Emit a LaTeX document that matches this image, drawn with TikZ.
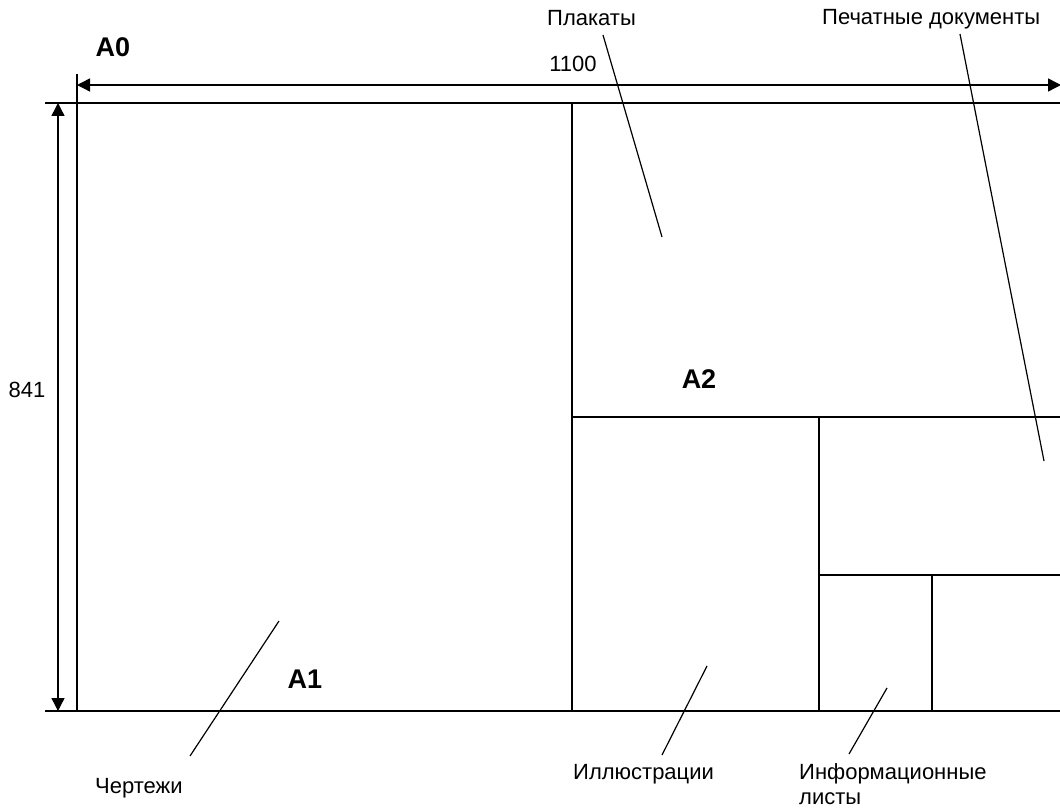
\documentclass[tikz,border=0pt]{standalone}
\usepackage{fontspec}
\setmainfont{Liberation Sans}
\usetikzlibrary{arrows.meta}
\begin{document}
\begin{tikzpicture}[x=1pt,y=-1pt,
  frameline/.style={line width=2.8pt, line cap=rect},
  extline/.style={line width=1.4pt},
  dimline/.style={line width=1.4pt, {Triangle[length=13pt,width=13pt]}-{Triangle[length=13pt,width=13pt]}},
  leader/.style={line width=1.2pt},
  lbl/.style={font=\fontsize{22}{25}\selectfont, inner sep=0pt, anchor=base west, align=left},
  big/.style={font=\fontsize{27}{30}\selectfont\bfseries, inner sep=0pt}]
\useasboundingbox (0,0) rectangle (1060,810);
\clip (0,0) rectangle (1060,810);
% corners and division points
\coordinate (TL) at (77,103);
\coordinate (BL) at (77,711);
\coordinate (TR) at (1064,103);
\coordinate (BR) at (1064,711);
\coordinate (M1t) at (572,103);
\coordinate (M1b) at (572,711);
\coordinate (H1l) at (572,417);
\coordinate (H1r) at (1064,417);
\coordinate (V2t) at (819,417);
\coordinate (V2b) at (819,711);
\coordinate (H2l) at (819,575);
\coordinate (H2r) at (1064,575);
\coordinate (V3t) at (932,575);
\coordinate (V3b) at (932,711);
% sheet outline and divisions
\draw[frameline] (TR) -- (TL) -- (BL) -- (BR);
\draw[frameline] (M1t) -- (M1b);
\draw[frameline] (H1l) -- (H1r);
\draw[frameline] (V2t) -- (V2b);
\draw[frameline] (H2l) -- (H2r);
\draw[frameline] (V3t) -- (V3b);
% extension lines
\coordinate (EXt) at (77,74);
\coordinate (EXl1) at (45,103);
\coordinate (EXl2) at (45,711);
\draw[extline] (EXt) -- (TL);
\draw[extline] (EXl1) -- (TL);
\draw[extline] (EXl2) -- (BL);
% dimension lines
\coordinate (DHl) at (77,85);
\coordinate (DHr) at (1061,85);
\coordinate (DVt) at (58,103);
\coordinate (DVb) at (58,711);
\draw[dimline] (DHl) -- (DHr);
\draw[dimline] (DVt) -- (DVb);
% labels
\node[big] (a0) at (113,47) {A0};
\node[big] (a1) at (305,679) {A1};
\node[big] (a2) at (699,379) {A2};
\node[lbl, anchor=center] (w) at (573,64) {1100};
\node[lbl, anchor=center] (h) at (27,390) {841};
\node[lbl] (plak) at (547,26) {Плакаты};
\node[lbl] (pech) at (822,25) {Печатные документы};
\node[lbl] (cher) at (95,793) {Чертежи};
\node[lbl] (ill) at (573,779) {Иллюстрации};
\node[lbl] (info) at (799,804) {Информационные\\листы};
% leader lines
\coordinate (Lplak1) at (603,35);
\coordinate (Lplak2) at (662,237);
\coordinate (Lpech1) at (960,34);
\coordinate (Lpech2) at (1044,461);
\coordinate (Lcher1) at (190,756);
\coordinate (Lcher2) at (279,621);
\coordinate (Lill1) at (662,755);
\coordinate (Lill2) at (707,666);
\coordinate (Linfo1) at (849,754);
\coordinate (Linfo2) at (887,688);
\draw[leader] (Lplak1) -- (Lplak2);
\draw[leader] (Lpech1) -- (Lpech2);
\draw[leader] (Lcher1) -- (Lcher2);
\draw[leader] (Lill1) -- (Lill2);
\draw[leader] (Linfo1) -- (Linfo2);
\end{tikzpicture}
\end{document}
